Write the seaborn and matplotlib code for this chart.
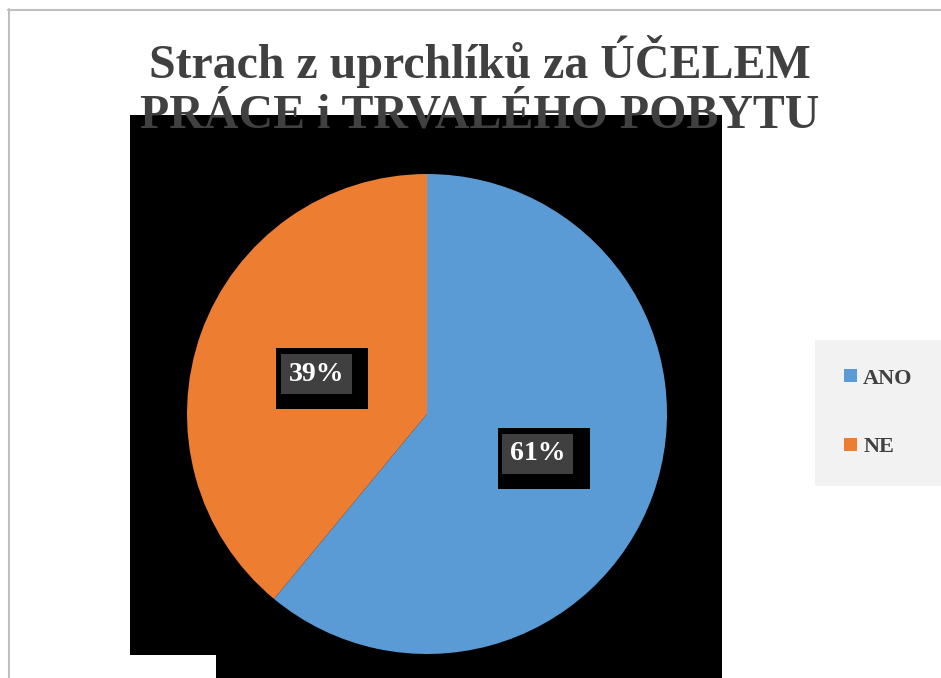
import matplotlib
matplotlib.use('Agg')
import matplotlib.pyplot as plt
from matplotlib.patches import Polygon, Rectangle
from matplotlib.lines import Line2D
import seaborn as sns

# data
categories = ['ANO', 'NE']
shares = [61, 39]
colors = ['#5B9BD5', '#ED7D31']
title = 'Strach z uprchlíků za ÚČELEM\nPRÁCE i TRVALÉHO POBYTU'

W, H = 941, 678


def fx(px):
    return px / W


def fy(py):
    return 1 - py / H


sns.set_theme(style='white')
plt.rcParams['font.family'] = ['Liberation Serif', 'DejaVu Serif']

fig = plt.figure(figsize=(W / 100, H / 100), dpi=100)
fig.patch.set_facecolor('white')

# black backdrop behind the pie
backdrop = Polygon([(fx(130), fy(115)), (fx(722), fy(115)), (fx(722), fy(678)),
                    (fx(216), fy(678)), (fx(216), fy(655)), (fx(130), fy(655))],
                   closed=True, transform=fig.transFigure,
                   facecolor='black', edgecolor='none', zorder=-1)
fig.add_artist(backdrop)

# chart border (top and left only visible)
fig.add_artist(Line2D([fx(8), fx(941)], [fy(9.5), fy(9.5)], transform=fig.transFigure,
                      color='#BFBFBF', lw=1.5, zorder=-1))
fig.add_artist(Line2D([fx(8.5), fx(8.5)], [fy(9), fy(678)], transform=fig.transFigure,
                      color='#BFBFBF', lw=1.5, zorder=-1))

# pie
ax = fig.add_axes([fx(187), fy(654), 480 / W, 480 / H])
ax.patch.set_alpha(0)
wedges, texts, autotexts = ax.pie(
    shares, colors=sns.color_palette(colors), startangle=90, counterclock=False,
    autopct='%1.0f%%', pctdistance=0.49,
    wedgeprops=dict(edgecolor='none', linewidth=0),
    textprops=dict(color='white', fontsize=20, fontweight='bold'))
ax.set_xlim(-1, 1)
ax.set_ylim(-1, 1)
ax.set_aspect('equal')
ax.axis('off')

fig.canvas.draw()
inv = ax.transData.inverted()
for t in autotexts:
    t.set_bbox(dict(boxstyle='square,pad=0.28', facecolor='#404040', edgecolor='none'))
    t.set_zorder(4)
    px, py = ax.transData.transform(t.get_position())
    x0, y0 = inv.transform((px - 40, py - 35))
    x1, y1 = inv.transform((px + 52, py + 26))
    ax.add_patch(Rectangle((x0, y0), x1 - x0, y1 - y0, facecolor='black',
                           edgecolor='none', zorder=3, clip_on=False))

# title
fig.text(fx(480), fy(35), title, ha='center', va='top', fontsize=34.5,
         fontweight='bold', color='#404040', linespacing=1.17, zorder=5)

# legend
fig.legend(wedges, categories, loc='center', bbox_to_anchor=(fx(878.5), fy(413)),
           frameon=True, facecolor='#F2F2F2', edgecolor='none', fancybox=False,
           framealpha=1, prop=dict(family='Liberation Serif', weight='bold', size=16),
           labelcolor='#404040', handlelength=0.55, handleheight=0.55,
           handletextpad=0.3, labelspacing=2.2, borderpad=1.3)

fig.savefig('out.png', dpi=100)
